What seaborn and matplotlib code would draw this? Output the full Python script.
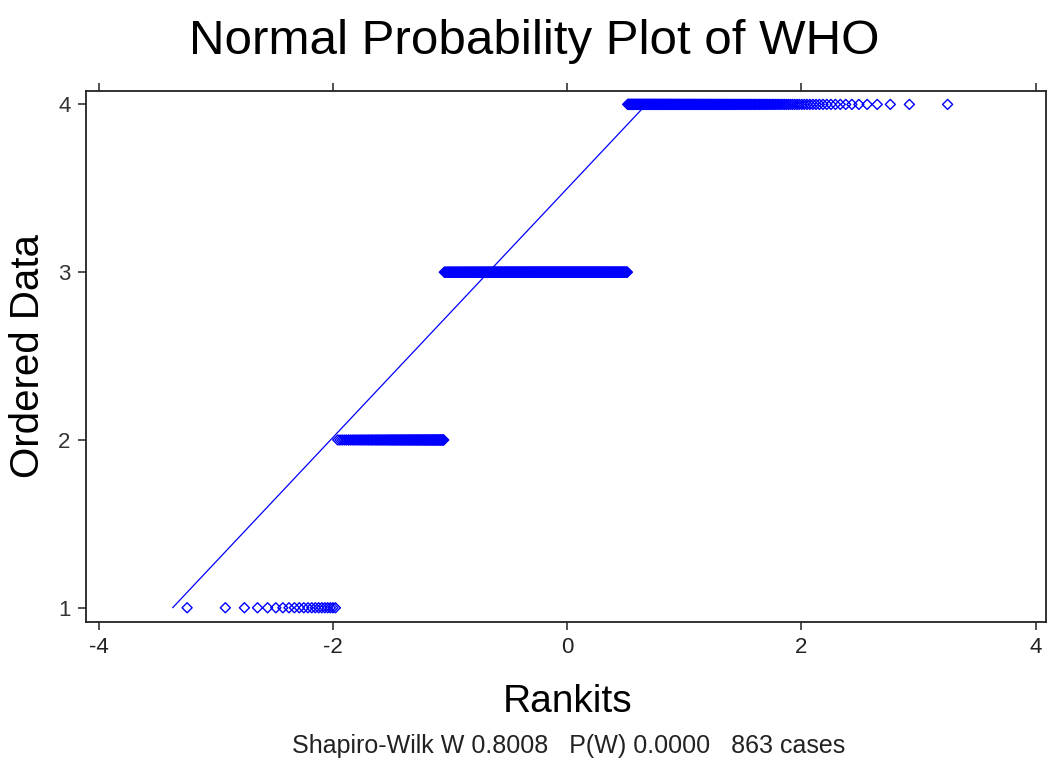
import numpy as np
import pandas as pd
import matplotlib
matplotlib.use("Agg")
import matplotlib.pyplot as plt
from matplotlib import font_manager
import seaborn as sns
from statistics import NormalDist

# ---- data ----
levels = [1, 2, 3, 4]            # ordered data values
counts = [21, 105, 475, 262]     # number of cases at each value (863 total)
title = "Normal Probability Plot of WHO"
xlabel = "Rankits"
ylabel = "Ordered Data"
stats_text = "Shapiro-Wilk W 0.8008   P(W) 0.0000   863 cases"
x_ticks = [-4, -2, 0, 2, 4]
y_ticks = [1, 2, 3, 4]

# ---- derived: ordered data and rankits ----
ordered = np.repeat(levels, counts).astype(float)
n = len(ordered)
nd = NormalDist()
rankits = np.array([nd.inv_cdf((i - 0.5) / n) for i in range(1, n + 1)])
df = pd.DataFrame({"Rankits": rankits, "Ordered": ordered})

# reference line through the quartiles
q1, q3 = np.percentile(ordered, [25, 75])
z1, z3 = nd.inv_cdf(0.25), nd.inv_cdf(0.75)
slope = (q3 - q1) / (z3 - z1)
intercept = q1 - slope * z1
y_line = np.array([ordered.min(), ordered.max()])
line_df = pd.DataFrame({"Rankits": (y_line - intercept) / slope, "Ordered": y_line})

# ---- plotting ----
sns.set_theme(style="white")
plt.rcParams["font.family"] = ["Liberation Sans", "DejaVu Sans"]

names = {f.name for f in font_manager.fontManager.ttflist}
if "Liberation Sans Narrow" in names:
    tick_family = ["Liberation Sans Narrow", "DejaVu Sans"]
    tick_size = 18
else:
    tick_family = ["Liberation Sans", "DejaVu Sans"]
    tick_size = 16

fig = plt.figure(figsize=(10.47, 7.62), dpi=100)
ax = fig.add_axes([0.0821, 0.1837, 0.9170, 0.6969])

blue = "#0000FF"
sns.lineplot(data=line_df, x="Rankits", y="Ordered", ax=ax, color=blue,
             linewidth=0.9, sort=False)
sns.scatterplot(data=df, x="Rankits", y="Ordered", ax=ax, marker="D",
                s=26, facecolor="none", edgecolor=blue, linewidth=1.0)

ax.set_xlim(-4.113, 4.09)
ax.set_ylim(0.915, 4.08)
ax.set_xticks(x_ticks)
ax.set_xticklabels([str(t) for t in x_ticks])
ax.set_yticks(y_ticks)
ax.set_yticklabels([str(t) for t in y_ticks])
ax.set_xlabel("")
ax.set_ylabel("")

for side in ["left", "bottom", "top", "right"]:
    ax.spines[side].set_visible(True)
    ax.spines[side].set_color("#222222")
    ax.spines[side].set_linewidth(1.3)
ax.tick_params(axis="x", which="both", direction="out", length=6, width=1.1,
               color="#222222", top=True, bottom=True, labeltop=False,
               labelsize=tick_size, labelcolor="#222222", pad=5)
ax.tick_params(axis="y", which="both", direction="out", length=6, width=1.1,
               color="#222222", left=True, right=False,
               labelsize=tick_size, labelcolor="#333333", pad=5)
for lab in ax.get_xticklabels() + ax.get_yticklabels():
    lab.set_family(tick_family)

fig.text(0.510, 0.946, title, ha="center", va="center", fontsize=35.5, color="black")
fig.text(0.542, 0.079, xlabel, ha="center", va="center", fontsize=28, color="black")
fig.text(0.027, 0.533, ylabel, ha="center", va="center", fontsize=29,
         rotation=90, color="black")
fig.text(0.543, 0.021, stats_text, ha="center", va="center", fontsize=18,
         color="#222222")

fig.savefig("out.png", dpi=100)
